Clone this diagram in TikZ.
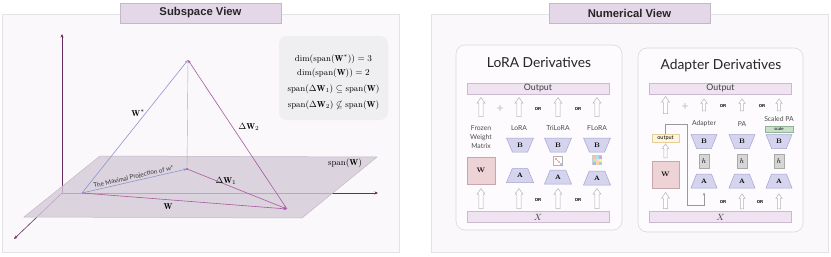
\documentclass[tikz,border=0pt]{standalone}
\usepackage{amsmath,amssymb}
\usepackage{fontspec}
\usetikzlibrary{shapes.geometric,shapes.arrows,arrows.meta}
\newfontfamily\hdfont{Liberation Sans}
\newfontfamily\lbfont{Lato}
\definecolor{framefill}{HTML}{FAF8FB}
\definecolor{frameline}{HTML}{E5E2E7}
\definecolor{hdrfill}{HTML}{E4D7E8}
\definecolor{hdrline}{HTML}{C5B6C9}
\definecolor{subfill}{HTML}{FDFBFD}
\definecolor{subline}{HTML}{DCD8DE}
\definecolor{barfill}{HTML}{EFE2F1}
\definecolor{barline}{HTML}{C9BACD}
\definecolor{trapf}{HTML}{D5D4EE}
\definecolor{trapd}{HTML}{A5A3CF}
\definecolor{wfill}{HTML}{EDD3D6}
\definecolor{wline}{HTML}{C9A6AB}
\definecolor{arrgray}{HTML}{B5B5B5}
\definecolor{axisc}{HTML}{6A2C60}
\definecolor{bluev}{HTML}{8F95CD}
\definecolor{purv}{HTML}{A8589F}
\definecolor{planef}{HTML}{D3CAD7}
\definecolor{planel}{HTML}{C2B8C6}
\definecolor{infofill}{HTML}{EFEEF1}
\definecolor{hfill}{HTML}{D6D6D6}
\definecolor{hline}{HTML}{A9A9A9}
\definecolor{scfill}{HTML}{C8DFCB}
\definecolor{scline}{HTML}{8FB596}
\definecolor{outfill}{HTML}{FFF5DE}
\definecolor{outline}{HTML}{E3CF9A}
\tikzset{
  frame/.style={draw=frameline, fill=framefill, line width=0.8},
  hdr/.style={draw=hdrline, fill=hdrfill, line width=0.5, minimum width=161, minimum height=20, inner sep=0, font=\hdfont\bfseries\fontsize{11.3}{12}\selectfont, text=black!85},
  subbox/.style={draw=subline, fill=subfill, line width=0.6, rounded corners=9},
  axisline/.style={draw=axisc, line width=0.6, -{Stealth[length=3.5pt,width=3pt]}},
  vecb/.style={draw=bluev, line width=0.6, -{Stealth[length=3.5pt,width=2.6pt]}},
  vecp/.style={draw=purv, line width=0.6, -{Stealth[length=3.5pt,width=2.6pt]}},
  veclab/.style={font=\fontsize{8.6}{10}\selectfont, inner sep=0},
  infotxt/.style={font=\fontsize{8.6}{10}\selectfont, inner sep=0},
  harr/.style={single arrow, draw=arrgray, fill=white, line width=0.5, shape border rotate=90, inner sep=1.8, single arrow head extend=1.9, single arrow tip angle=70, minimum height=#1},
  harrs/.style={single arrow, draw=arrgray, fill=white, line width=0.5, shape border rotate=90, inner sep=1.3, single arrow head extend=1.5, single arrow tip angle=70, minimum height=#1},
  lab/.style={font=\lbfont\fontsize{6.8}{9}\selectfont, text=black!70, inner sep=0, align=center},
  ortxt/.style={font=\hdfont\bfseries\fontsize{4.3}{5}\selectfont, inner sep=0},
  bar/.style={draw=barline, fill=barfill, line width=0.5, minimum width=142, minimum height=11, inner sep=0, font=\lbfont\fontsize{8.8}{9}\selectfont, text=black!75},
  trapA/.style={trapezium, draw=trapd, fill=trapf, line width=0.5, trapezium stretches=true, minimum width=27, minimum height=14, trapezium angle=63, inner sep=0, font=\bfseries\fontsize{6.5}{7}\selectfont},
  trapB/.style={trapA, shape border rotate=180},
  wbox/.style={draw=wline, fill=wfill, line width=0.6, minimum width=28, minimum height=27, inner sep=0, font=\bfseries\fontsize{6.5}{7}\selectfont},
  hbox/.style={draw=hline, fill=hfill, line width=0.5, minimum width=10, minimum height=14, inner sep=0, font=\fontsize{7.5}{8}\selectfont},
  plus/.style={font=\lbfont\fontsize{12}{12}\selectfont, text=black!25, inner sep=0},
  title/.style={font=\lbfont\fontsize{13.8}{15}\selectfont, text=black!85, inner sep=0},
  conn/.style={draw=black!40, line width=0.6, -{Stealth[length=3pt,width=2.4pt]}}
}
\begin{document}
\begin{tikzpicture}[x=1pt,y=-1pt]
\useasboundingbox (0,0) rectangle (831,257);
\fill[white] (0,0) rectangle (831,257);
% ================= LEFT PANEL =================
\draw[frame] (2,14) rectangle (399,252);
\node[hdr] (hL) at (200.5,13) {Subspace View};
% axes
\coordinate (O0) at (62,193);
\coordinate (zT) at (62,34);
\coordinate (xR) at (378,193);
\coordinate (yD) at (14,239);
\draw[axisline] (O0) -- (zT);
\draw[axisline] (O0) -- (xR);
\draw[axisline] (O0) -- (yD);
% plane
\fill[planef, fill opacity=0.78] (100,156) -- (377,157) -- (302,218) -- (24,217) -- cycle;
\draw[planel, line width=0.5] (100,156) -- (377,157) -- (302,218) -- (24,217) -- cycle;
\node[veclab] (spanW) at (345,163) {$\mathrm{span}(\mathbf{W})$};
% vectors
\coordinate (O) at (82,193);
\coordinate (T) at (188,60);
\coordinate (P) at (187,169);
\coordinate (Q) at (287,209);
\draw[draw=bluev!80, line width=0.4] (T) -- (P);
\draw[vecb] (O) -- (T);
\draw[vecb] (O) -- node[sloped, above=0.8pt, font=\lbfont\fontsize{6.3}{7}\selectfont, text=black!80, inner sep=0] (projlab) {The Maximal Projection of w*} (P);
\draw[vecp] (O) -- (Q);
\draw[vecp] (P) -- (Q);
\draw[vecp] (Q) -- (T);
\fill[purv] (P) circle (1.1);
\node[veclab] (lWs) at (138,113) {$\mathbf{W}^{*}$};
\node[veclab] (lD2) at (249,127) {$\Delta\mathbf{W}_2$};
\node[veclab] (lD1) at (226,181) {$\Delta\mathbf{W}_1$};
\node[veclab] (lW) at (168,207) {$\mathbf{W}$};
% info box
\node[fill=infofill, rounded corners=8, minimum width=109, minimum height=84, inner sep=0] (info) at (333.5,78) {};
\node[infotxt] (i1) at (333.5,59) {$\dim(\mathrm{span}(\mathbf{W}^{*})) = 3$};
\node[infotxt] (i2) at (333.5,73.5) {$\dim(\mathrm{span}(\mathbf{W})) = 2$};
\node[infotxt] (i3) at (333.5,89.5) {$\mathrm{span}(\Delta\mathbf{W}_1) \subseteq \mathrm{span}(\mathbf{W})$};
\node[infotxt] (i4) at (333.5,105) {$\mathrm{span}(\Delta\mathbf{W}_2) \nsubseteq \mathrm{span}(\mathbf{W})$};
% ================= RIGHT PANEL =================
\draw[frame] (431,14) rectangle (828,252);
\node[hdr] (hR) at (629.5,13) {Numerical View};
% ---- LoRA derivatives ----
\draw[subbox] (456,45) rectangle (622,230);
\node[title] (tL) at (539,62) {LoRA Derivatives};
\node[bar] (outL) at (538,88.5) {Output};
\node[bar] (xL) at (538,217) {$X$};
\foreach \x/\n in {481/a,519/b,558/c,597/d}{
  \node[harr=19] (tu\n) at (\x,108.5) {};
  \node[harr=20] (bu\n) at (\x,200) {};
}
\node[plus] (plL) at (500,109) {+};
\node[ortxt] (o1) at (538,109) {OR};
\node[ortxt] (o2) at (578,109) {OR};
\node[ortxt] (o3) at (538,200) {OR};
\node[ortxt] (o4) at (578,200) {OR};
\node[lab] (fz) at (481,137) {Frozen\\Weight\\Matrix};
\node[lab] (lLoRA) at (519,128) {LoRA};
\node[lab] (lTri) at (558,128) {TriLoRA};
\node[lab] (lF) at (597,128) {FLoRA};
\node[wbox] (WL) at (481,170.5) {W};
\node[trapB] (B1) at (520,145) {B};
\node[trapB] (B2) at (558,145) {B};
\node[trapB] (B3) at (597,145) {B};
\node[trapA] (A1) at (520,175.5) {A};
\node[trapA] (A2) at (558,177) {A};
\node[trapA] (A3) at (597,178) {A};
% TriLoRA icon
\node[draw=black!30, fill=white, line width=0.4, minimum size=9, inner sep=0] (icT) at (558,161) {};
\fill[red!40] (554.8,157.8) rectangle (556.6,159.6);
\fill[blue!35] (556.6,159.6) rectangle (558.4,161.4);
\fill[red!30] (558.4,161.4) rectangle (560.2,163.2);
\fill[blue!25] (560.2,163.2) rectangle (561.6,164.6);
% FLoRA icon
\node[draw=black!20, fill=white, line width=0.3, minimum size=9, inner sep=0] (icF) at (597,160) {};
\foreach \i/\j/\c in {0/0/orange!45,1/0/cyan!35,2/0/violet!35,0/1/green!40,1/1/pink!70,2/1/yellow!55,0/2/blue!30,1/2/orange!35,2/2/teal!35}{
  \fill[\c] (592.5+\i*3,155.5+\j*3) rectangle ++(3,3);
}
% ---- Adapter derivatives ----
\draw[subbox] (638,48) rectangle (803,232);
\node[title] (tA) at (721,66) {Adapter Derivatives};
\node[bar] (outA) at (720.5,88.5) {Output};
\node[bar] (xA) at (720.5,217) {$X$};
\node[harr=17] (tuW) at (665.5,106.5) {};
\node[harrs=12] (tu1) at (704,106) {};
\node[harrs=12] (tu2) at (742,106) {};
\node[harrs=12] (tu3) at (779,106) {};
\node[harr=16] (buW) at (665.5,202) {};
\node[harrs=15] (bu2) at (742,202.5) {};
\node[harrs=15] (bu3) at (779,202.5) {};
\node[plus] (plA) at (685,107) {+};
\node[ortxt] (o5) at (723,106) {OR};
\node[ortxt] (o6) at (762,106) {OR};
\node[ortxt] (o7) at (723,202) {OR};
\node[ortxt] (o8) at (760,202) {OR};
\node[lab] (lAd) at (704,124) {Adapter};
\node[lab] (lPA) at (742,124) {PA};
\node[lab] (lSPA) at (779,119) {Scaled PA};
\node[draw=scline, fill=scfill, line width=0.4, minimum width=28, minimum height=6.5, inner sep=0, font=\lbfont\fontsize{4.3}{4.5}\selectfont] (scl) at (779,129) {scale};
\node[draw=outline, fill=outfill, line width=0.4, minimum width=27, minimum height=8, inner sep=0, font=\lbfont\fontsize{5.5}{6}\selectfont] (outb) at (665.5,138) {output};
\node[wbox, minimum width=27] (WA) at (665.5,174.5) {W};
\node[harrs=14] (wup) at (665.5,152) {};
\foreach \x/\n in {704/1,742/2,779/3}{
  \node[trapB, minimum width=26] (AB\n) at (\x,141.5) {B};
  \node[hbox] (h\n) at (\x,161) {$h$};
  \node[trapA, minimum width=26] (AA\n) at (\x,181) {A};
}
\coordinate (c1) at (665.5,124);
\coordinate (c2) at (687,124);
\coordinate (c3) at (687,205);
\coordinate (c4) at (704,205);
\coordinate (c5) at (704,192.5);
\draw[conn] (outb.north) -- (c1) -- (c2) -- (c3) -- (c4) -- (c5);
\end{tikzpicture}
\end{document}
